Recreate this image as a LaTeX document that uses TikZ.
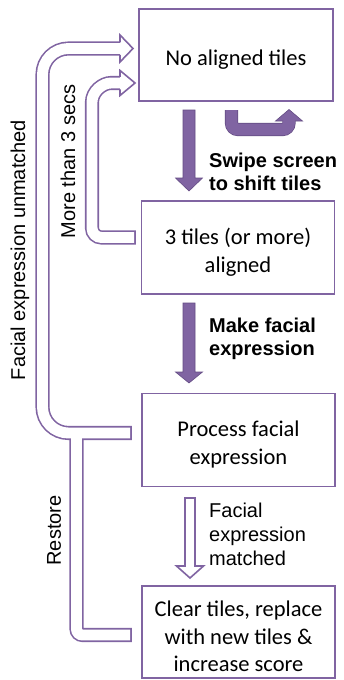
\documentclass[tikz,border=0pt]{standalone}
\usepackage{fontspec}
\setmainfont{Carlito}
\newfontfamily\arialf{Liberation Sans}
\definecolor{pur}{RGB}{128,100,162}
\definecolor{purd}{RGB}{100,76,132}
\newcommand\bandA[1]{(#1,433) -- (68.5,433) .. controls (54.14,433) and (42.5,421.36) .. (42.5,407) -- (42.5,74.5) .. controls (42.5,60.14) and (54.14,48.5) .. (68.5,48.5) -- (120,48.5)}
\newcommand\bandB[1]{(#1,635) -- (82.5,635) .. controls (79.19,635) and (76.5,632.31) .. (76.5,629) -- (76.5,433)}
\newcommand\bandC[1]{(#1,237.5) -- (101.5,237.5) .. controls (96.25,237.5) and (92,233.25) .. (92,228) -- (92,102) .. controls (92,91.5) and (102.5,83) .. (111,83) -- (120,83)}
\newcommand\dnshape[5]{(#1-#4,#2) -- (#1+#4,#2) -- (#1+#4,#5) -- (#1+13.5,#5) -- (#1,#3) -- (#1-13.5,#5) -- (#1-#4,#5) -- cycle}
\newcommand\uturn{(231.5,110) -- (231.5,123) .. controls (231.5,126.6) and (234.4,129.5) .. (238,129.5) -- (282.5,129.5) .. controls (286.1,129.5) and (289,126.6) .. (289,123) -- (289,121)}
\begin{document}
\begin{tikzpicture}[x=1pt,y=-1pt,
  box/.style={draw=pur,line width=1.8pt,fill=white,minimum width=193pt,minimum height=93pt,inner sep=0pt},
  boxtext/.style={inner sep=0pt,align=center,font=\fontsize{22.5}{27.5}\selectfont},
  lab/.style={inner sep=0pt,align=left,font=\arialf\fontsize{20}{23}\selectfont},
  blab/.style={inner sep=0pt,align=left,font=\arialf\bfseries\fontsize{20}{23}\selectfont},
  rlab/.style={lab,rotate=90},
  solidarr/.style={fill=pur,draw=purd,line width=0.6pt,line join=miter},
  bandout/.style={draw=pur,line width=14.1pt},
  bandin/.style={draw=white,line width=10.9pt},
  hol/.style={draw=pur,line width=1.6pt,fill=white,line join=miter},
  headline/.style={draw=pur,line width=1.6pt,line join=miter}]
\useasboundingbox (0,0) rectangle (343,680);
\fill[white] (0,0) rectangle (343,680);
% boxes
\node[box,minimum width=194pt,minimum height=92pt] (b1) at (236,55) {};
\node[box] (b2) at (238,247.5) {};
\node[box] (b3) at (238.5,440) {};
\node[box,minimum height=92pt] (b4) at (238.5,632) {};
\node[boxtext] (t1) at ([yshift=-4.5pt]b1.center) {No aligned tiles};
\node[boxtext] (t2) at ([yshift=-4.5pt]b2.center) {3 tiles (or more)\\aligned};
\node[boxtext] (t3) at ([yshift=-4.5pt]b3.center) {Process facial\\expression};
\node[boxtext] (t4) at ([yshift=-4.5pt]b4.center) {Clear tiles, replace\\with new tiles \&\\increase score};
% hollow loop bands
\draw[bandout] \bandA{131.8};
\draw[bandout] \bandB{131.8};
\draw[bandout] \bandC{135.8};
\draw[bandin] \bandA{130.2};
\draw[bandin] \bandB{130.2};
\draw[bandin] \bandC{134.2};
\fill[white] (120,35) -- (133,48.5) -- (120,62) -- cycle;
\draw[headline] (120,42.25) -- (120,35) -- (133,48.5) -- (120,62) -- (120,54.75);
\fill[white] (120,70.5) -- (135,83) -- (120,95.5) -- cycle;
\draw[headline] (120,76.75) -- (120,70.5) -- (135,83) -- (120,95.5) -- (120,89.25);
% solid arrows
\draw[solidarr] \dnshape{189}{110}{191}{6}{178};
\draw[solidarr] \dnshape{189}{303}{383}{6}{372};
\draw[hol] \dnshape{190}{498}{578}{5}{566};
% u-turn arrow
\draw[purd,line width=13.2pt] \uturn;
\draw[pur,line width=11.8pt] \uturn;
\fill[pur] (275.5,121) -- (289,109.5) -- (302.5,121) -- cycle;
\draw[purd,line width=0.6pt,line join=miter] (283,121) -- (275.5,121) -- (289,109.5) -- (302.5,121) -- (295,121);
% labels
\node[blab,anchor=west] (l1) at (209,171.5) {Swipe screen\\to shift tiles};
\node[blab,anchor=west] (l2) at (209,338.5) {Make facial\\expression};
\node[inner sep=0pt,align=left,font=\arialf\fontsize{20}{24}\selectfont,anchor=west] (l3) at (209,534) {Facial\\expression\\matched};
\node[rlab] (l4) at (20,250) {Facial expression unmatched};
\node[rlab] (l5) at (68,161.5) {More than 3 secs};
\node[rlab] (l6) at (54,530.5) {Restore};
\end{tikzpicture}
\end{document}
